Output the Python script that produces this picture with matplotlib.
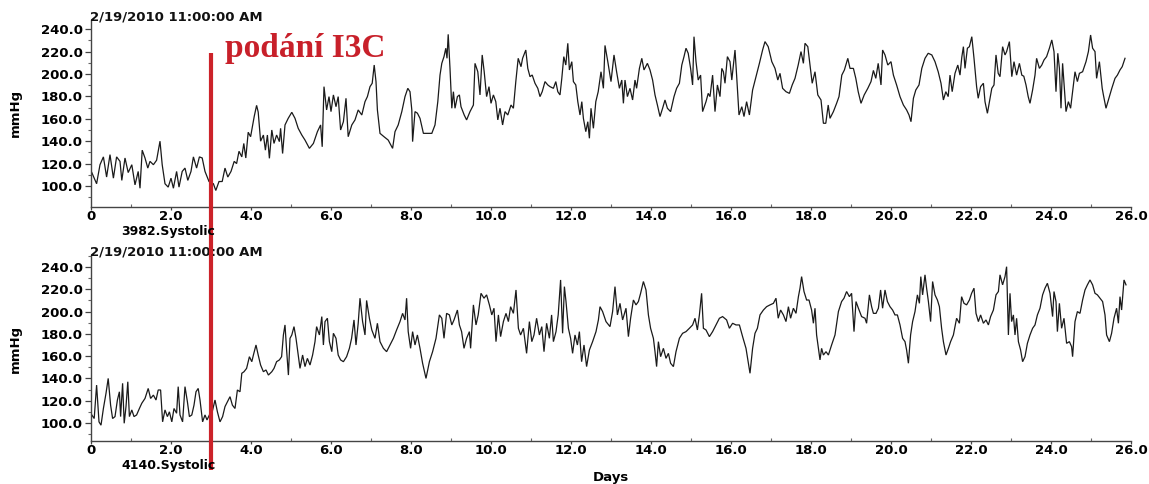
import matplotlib
matplotlib.use("Agg")
import matplotlib.pyplot as plt
from matplotlib.ticker import MultipleLocator, FuncFormatter
from matplotlib.lines import Line2D
import matplotlib.transforms as mtransforms

# ---------------- data ----------------
top_label = "3982.Systolic"
bottom_label = "4140.Systolic"
start_stamp = "2/19/2010 11:00:00 AM"
marker_day = 3.0
marker_text = "podání I3C"

top_days = [0.02,0.14,0.225,0.31,0.39,0.475,0.56,0.64,0.725,0.77,0.85,0.93,1.02,1.1,1.18,1.225,1.28,1.35,1.42,1.475,
            1.56,1.64,1.725,1.78,1.85,1.93,2.0,2.06,2.14,2.2,2.28,2.35,2.42,2.5,2.56,2.64,2.71,2.78,2.85,2.95,
            3.06,3.12,3.2,3.28,3.35,3.42,3.5,3.58,3.64,3.7,3.77,3.82,3.87,3.93,3.99,4.04,4.08,4.14,4.18,4.24,4.31,
            4.36,4.41,4.46,4.52,4.575,4.64,4.71,4.74,4.79,4.85,4.93,5.02,5.1,5.18,5.27,5.35,5.46,5.56,5.66,5.74,
            5.78,5.825,5.89,5.95,6.0,6.06,6.125,6.18,6.24,6.31,6.375,6.43,6.52,6.6,6.68,6.77,6.85,6.91,6.975,7.03,
            7.08,7.125,7.16,7.225,7.325,7.43,7.54,7.6,7.68,7.77,7.85,7.92,7.975,8.02,8.04,8.1,8.16,8.225,8.31,8.39,
            8.52,8.6,8.67,8.725,8.77,8.825,8.87,8.9,8.93,8.975,9.02,9.06,9.1,9.16,9.21,9.25,9.33,9.39,9.475,9.56,
            9.6,9.67,9.725,9.78,9.83,9.89,9.95,10.0,10.06,10.12,10.17,10.225,10.29,10.35,10.42,10.5,10.56,10.62,
            10.68,10.75,10.79,10.87,10.92,10.975,11.03,11.1,11.17,11.225,11.28,11.35,11.42,11.475,11.56,11.62,
            11.67,11.725,11.77,11.82,11.87,11.92,11.96,12.02,12.06,12.12,12.17,12.225,12.27,12.31,12.37,12.42,
            12.46,12.5,12.56,12.62,12.68,12.75,12.81,12.85,12.92,13.0,13.075,13.14,13.21,13.27,13.31,13.35,13.41,
            13.475,13.54,13.6,13.64,13.71,13.77,13.825,13.91,13.975,14.04,14.1,14.16,14.225,14.29,14.35,14.41,
            14.49,14.575,14.64,14.71,14.77,14.825,14.875,14.93,14.99,15.04,15.075,15.125,15.18,15.24,15.29,15.375,
            15.43,15.475,15.54,15.6,15.66,15.725,15.77,15.81,15.85,15.91,15.975,16.02,16.1,16.14,16.2,16.27,16.325,
            16.39,16.46,16.54,16.625,16.71,16.79,16.85,16.93,17.02,17.1,17.17,17.225,17.29,17.375,17.46,17.53,17.6,
            17.68,17.75,17.81,17.85,17.92,17.975,18.03,18.1,18.17,18.25,18.31,18.37,18.43,18.475,18.56,18.64,18.7,
            18.77,18.835,18.92,18.975,19.06,19.12,19.18,19.25,19.33,19.42,19.5,19.56,19.62,19.68,19.75,19.79,19.85,
            19.92,20.0,20.06,20.14,20.225,20.31,20.39,20.45,20.5,20.56,20.62,20.7,20.77,20.85,20.93,21.02,21.1,
            21.18,21.25,21.31,21.37,21.43,21.475,21.53,21.6,21.67,21.725,21.77,21.81,21.85,21.91,21.96,22.02,
            22.075,22.14,22.18,22.24,22.31,22.35,22.41,22.46,22.52,22.575,22.625,22.68,22.725,22.79,22.85,22.89,
            22.96,23.02,23.075,23.14,23.21,23.27,23.32,23.375,23.43,23.475,23.54,23.6,23.64,23.71,23.77,23.825,
            23.89,23.96,24.02,24.075,24.125,24.17,24.21,24.25,24.29,24.325,24.375,24.435,24.49,24.54,24.6,24.66,
            24.71,24.79,24.875,24.935,24.99,25.04,25.1,25.14,25.21,25.28,25.31,25.375,25.435,25.52,25.6,25.66,
            25.725,25.78,25.85]
top_vals = [112,102,119,126,108,128,107,126,122,105,125,112,119,101,113,98,132,125,116,122,
            119,123,140,119,102,99,107,98,113,99,113,116,105,113,126,116,126,125,113,104,
            102,96,104,104,116,108,113,122,120,131,126,138,125,148,144,154,162,172,166,140,145.5,
            132,145.5,124.7,150,138,145.5,139.6,151.5,129,154.5,160.4,165.8,160.4,151.5,145.5,141,133.6,138,148.5,154.5,
            135,188.7,167.9,179.8,166.4,181.3,170.8,179.8,150,157.4,178.3,144,154.5,159,167.9,163.4,175.3,179.8,188.7,191.7,
            208,193.2,167.9,147,144,141,133.6,148.5,154.5,166.4,179.8,187.2,184.2,167.9,139.6,166.4,165,160.4,147,147,
            147,154.5,175.3,199,209.5,215.5,223,214,235.4,205,169.4,184.2,169.4,179.8,181.3,170.8,163.4,159,166.4,172.3,
            209.5,202,181.3,217,202,179.8,188.7,173.8,181.3,175.3,159,169.4,154.5,166.4,163.4,172.3,169.4,193.2,
            214,206.5,214,221.4,205,197.6,199.1,191.7,187.2,179.8,184.2,193.2,190.2,188.7,187.2,193.2,
            184.2,181.3,196.1,215.5,208,227.4,203.6,211,193.2,190.2,175.3,163.4,175.3,160.4,148.5,157.4,
            142.6,169.4,151.5,175.3,184.2,202,187.2,225.5,211,193.2,217,202,187.2,194.6,173.8,194.6,179.8,
            187.2,176.8,194.6,187.2,205,214,203.6,209.5,203.6,194.6,181.3,172.3,162,169.4,176.8,169.4,
            166.4,179.8,187.2,191.7,208,215.5,223,218.5,205,190.2,233.3,211,194.6,199,166.4,175.3,
            182.7,179.8,199,166.4,190.2,179.8,205,202,191.7,215.5,211,194.6,221.4,199,163.4,170.8,162,
            175.3,163.4,185.7,197.6,209.5,221.4,228.9,224.4,211,205,194.6,200.6,187.2,184.2,182.7,190.2,196.1,
            208,220,209.5,227.4,224.4,208,191.7,202,181.3,176.8,156,156,172.3,160.4,166.4,173.8,179.8,
            199,203.6,214,205,205,196.1,184.2,173.8,181.3,187.2,193.2,203.2,196.1,209.5,190.2,221.4,217,
            208,211,199,190.2,179.8,172.3,167.9,163.4,157.4,178.3,185.7,190.2,205,214,218.5,217,211,
            202,191.7,176.8,184.2,179.8,199,184.2,200.6,208,199,215,224.4,205,223,224.4,233.3,
            214,188.7,178.3,188.7,191.7,175.3,164.9,175.3,187.2,190.2,217,200.6,197.6,224.4,217,220,
            228.9,197.6,211,199,209.5,199,198,190.2,179.8,173.8,185.7,199,214,205,208,212.5,
            215.5,223,230.4,220,184.2,218.5,205,169.4,209.5,191.7,166.4,175.3,169.4,184.2,202,193.2,
            200.6,202,211,220,234.8,223,220,196.1,211,187.2,181.3,169.4,176.8,187.2,196.1,199,
            203.6,206.5,214]

bottom_days = [0.02,0.08,0.14,0.2,0.25,0.31,0.375,0.43,0.49,0.54,0.6,0.66,0.71,0.74,0.79,0.83,0.875,0.92,0.96,1.02,
               1.075,1.14,1.21,1.27,1.35,1.43,1.49,1.56,1.625,1.68,1.74,1.79,1.85,1.91,1.96,2.02,2.075,2.14,2.18,2.225,
               2.29,2.35,2.41,2.46,2.52,2.575,2.625,2.68,2.725,2.79,2.85,2.9,2.96,3.03,3.1,3.16,3.225,3.29,3.35,3.41,
               3.475,3.535,3.6,3.66,3.725,3.77,3.825,3.89,3.96,4.02,4.06,4.125,4.18,4.24,4.31,4.375,4.435,4.52,4.575,4.64,
               4.71,4.765,4.81,4.85,4.89,4.935,4.975,5.02,5.075,5.125,5.18,5.225,5.29,5.35,5.41,5.475,5.54,5.6,5.64,5.71,
               5.77,5.81,5.85,5.91,5.96,6.02,6.06,6.125,6.18,6.24,6.31,6.39,6.46,6.515,6.575,6.625,6.68,6.725,6.79,6.85,
               6.89,6.96,7.02,7.1,7.16,7.225,7.31,7.39,7.475,7.56,7.64,7.725,7.79,7.85,7.89,7.93,7.99,8.04,8.1,8.16,
               8.225,8.29,8.375,8.46,8.54,8.625,8.71,8.77,8.825,8.89,8.96,9.02,9.075,9.16,9.21,9.265,9.325,9.39,9.46,9.49,
               9.56,9.625,9.68,9.75,9.825,9.89,9.96,10.02,10.075,10.125,10.185,10.24,10.31,10.375,10.435,10.49,10.56,10.625,
               10.685,10.74,10.81,10.89,10.96,11.02,11.075,11.14,11.21,11.27,11.325,11.39,11.46,11.515,11.56,11.625,11.68,
               11.74,11.79,11.835,11.875,11.935,11.99,12.04,12.1,12.16,12.21,12.265,12.325,12.39,12.46,12.54,12.625,12.685,
               12.725,12.79,12.875,12.975,13.04,13.1,13.16,13.225,13.29,13.375,13.435,13.49,13.56,13.625,13.685,13.74,13.81,
               13.875,13.935,13.99,14.06,14.1,14.14,14.185,14.24,14.31,14.375,14.435,14.49,14.56,14.625,14.71,14.79,14.875,
               14.96,15.04,15.1,15.16,15.21,15.265,15.31,15.375,15.46,15.54,15.625,15.71,15.79,15.89,15.96,16.04,16.125,
               16.21,16.29,16.375,16.435,16.475,16.54,16.6,16.66,16.725,16.81,16.89,16.975,17.06,17.125,17.18,17.24,17.31,
               17.375,17.435,17.49,17.56,17.625,17.685,17.725,17.765,17.825,17.89,17.95,18.015,18.06,18.1,18.14,18.185,
               18.225,18.265,18.31,18.375,18.435,18.515,18.6,18.685,18.765,18.825,18.89,18.96,19.015,19.075,19.125,19.185,
               19.265,19.35,19.39,19.46,19.515,19.56,19.625,19.685,19.74,19.79,19.85,19.91,19.975,20.04,20.1,20.16,20.225,
               20.29,20.35,20.39,20.435,20.49,20.54,20.6,20.66,20.71,20.745,20.79,20.85,20.89,20.935,20.99,21.04,21.1,
               21.16,21.21,21.265,21.31,21.375,21.435,21.49,21.56,21.64,21.71,21.765,21.825,21.89,21.96,22.015,22.075,
               22.125,22.185,22.24,22.31,22.375,22.435,22.49,22.56,22.625,22.685,22.725,22.79,22.85,22.89,22.935,22.975,
               23.015,23.06,23.1,23.14,23.185,23.24,23.29,23.35,23.41,23.475,23.54,23.6,23.66,23.725,23.79,23.85,23.91,
               23.975,24.04,24.075,24.125,24.16,24.21,24.265,24.325,24.39,24.46,24.515,24.54,24.6,24.66,24.725,24.79,
               24.85,24.91,24.975,25.04,25.1,25.16,25.225,25.29,25.35,25.39,25.46,25.515,25.575,25.64,25.685,25.725,
               25.765,25.825,25.875]
bottom_vals = [107.2,104,134,101,98,113,126.6,140,116,104,105.7,120.6,128,105.7,135.6,99.7,114.7,137,105.7,111.7,
               105.7,107.2,113,117.7,122,131,122,125,120.6,129.6,129.6,101,111.7,105.7,110,101,113,108.7,132.6,107.2,
               101,132.6,119,105.7,107.2,116,128,131,120.6,101,107.2,102.7,107.2,110,120.6,110,101,105.7,114.7,119,
               123.6,116,113,129.6,128,144.6,146,149,159.5,155,161,170,161,152,146,147.6,143,146,149,155,
               156.6,159.5,179,188,165.5,143,176,179,186.5,176,161,149,161,150.6,158,152,161,173,186.5,179,
               195.5,170,191,194,173,164,180.5,176,161,156.6,155,159.5,167,176,192.5,170,189.5,212,191,179,
               210,194,183.5,176,189.5,173,167,164,170,176,183.5,191,198.4,192.5,212,182,167,182,170,179,
               167,153.6,140,155,164,176,197,194,176,198.4,197,188,192.5,201.4,188,182,167,176,182,167,
               206,188,197,216.4,212,215,206,197,203,173,197,177.5,191,198.4,191,204.4,198.4,219.4,
               185,179,185,162.5,191,173,179,194,179,186.5,164,189.5,176,197,173,182,197,
               228.4,180.5,222.4,209,185,176,162.5,179,170,182,155,170,150.6,165.5,173,182,192.5,
               204.4,200,191,186.5,200,222.4,197,207.4,192.5,203,177.5,194,210.4,206,209,216.4,227,
               219.4,197,185,176,164,150.6,173,159.5,167,158,162.5,153.6,150.6,164,176,180.5,182,
               185,188,194,183.5,197,216.4,185,183.5,177.5,182,188,194,195.5,192.5,185,189.5,188,
               188,177.5,167,153.6,144.6,167,180.5,185,197,201.4,204.4,206,207.4,212,194,201.4,197,
               191,204.4,194,203,198.4,213.4,221,231.4,218,210.4,210.4,201.4,189.5,203,179,167,
               156.6,167,161,164,161,170,179,200,209,212,218,213.4,216.4,182,209,203,
               195.5,194,189.5,215,204.4,198.4,198.4,203,219.4,203,219.4,209,204.4,201.4,197,197,188,
               176,173,165.5,153.6,179,191,200,215,207.4,231.4,215,233,221,209,191,227,215,
               210.4,204.4,185,173,161,167,173,179,194,189.5,213.4,207.4,206,210.4,216.4,221,
               198.4,191,197,189.5,192.5,188,195.5,201.4,215,218,233,224,231.4,240.3,179,216.4,
               191,197,179,194,173,165.5,155,159.5,171.5,179,185,188,197,203,215,221,225.4,
               216.4,195.5,218,209,182,207.4,185,194,171.5,173,168.5,159.5,191,200,198.4,210.4,
               219.4,224,228.4,224,216.4,215,212,209,197,179,173,180.5,194,203,189.5,213.4,
               201.4,228.4,224]

x_major = [0, 2, 4, 6, 8, 10, 12, 14, 16, 18, 20, 22, 24, 26]
y_major = [100, 120, 140, 160, 180, 200, 220, 240]

# ---------------- figure ----------------
W, H = 1149, 484
fig = plt.figure(figsize=(W / 100, H / 100), dpi=100)
plt.rcParams['font.family'] = ['DejaVu Sans']

tick_font = dict(family='DejaVu Sans', weight='bold', size=9.5)

def px(x0, y_top, x1, y_bot):
    return [x0 / W, 1 - y_bot / H, (x1 - x0) / W, (y_bot - y_top) / H]

ax1 = fig.add_axes(px(91, 20, 1131, 207))
ax2 = fig.add_axes(px(91, 255, 1131, 441))

panels = [(ax1, top_days, top_vals, (81.25, 248.2)),
          (ax2, bottom_days, bottom_vals, (83.8, 250.8))]

for ax, d, v, yl in panels:
    ax.plot(d, v, color='#1a1a1a', lw=0.9, solid_joinstyle='miter')
    ax.set_xlim(0, 26)
    ax.set_ylim(*yl)
    for s in ('top', 'right'):
        ax.spines[s].set_visible(False)
    for s in ('left', 'bottom'):
        ax.spines[s].set_color('#444444')
        ax.spines[s].set_linewidth(1.0)
    ax.set_xticks(x_major)
    ax.set_yticks(y_major)
    ax.xaxis.set_minor_locator(MultipleLocator(1))
    ax.yaxis.set_minor_locator(MultipleLocator(10))
    ax.xaxis.set_major_formatter(FuncFormatter(lambda val, pos: '0' if val == 0 else f'{val:.1f}'))
    ax.yaxis.set_major_formatter(FuncFormatter(lambda val, pos: f'{val:.1f}'))
    ax.tick_params(axis='y', which='major', length=4, width=0.9, color='#444444', pad=2)
    ax.tick_params(axis='y', which='minor', length=2.5, width=0.8, color='#666666')
    ax.tick_params(axis='x', which='major', length=2, width=0.9, color='#444444', pad=0.5)
    ax.tick_params(axis='x', which='minor', direction='in', length=2.5, width=0.8, color='#666666')
    for lab in ax.get_xticklabels() + ax.get_yticklabels():
        lab.set_fontproperties(matplotlib.font_manager.FontProperties(**tick_font))
    ax.annotate(start_stamp, xy=(0, 1), xycoords='axes fraction', xytext=(-1, 2.5),
                textcoords='offset points', ha='left', va='center', fontsize=9.5,
                fontweight='bold', color='#111111')

# y labels
fig.text(15 / W, 1 - 113 / H, 'mmHg', rotation=90, ha='center', va='center',
         fontsize=9.5, fontweight='bold')
fig.text(15 / W, 1 - 349 / H, 'mmHg', rotation=90, ha='center', va='center',
         fontsize=9.5, fontweight='bold')

# series names and x label
fig.text(121 / W, 1 - 231 / H, top_label, ha='left', va='center', fontsize=9, fontweight='bold')
fig.text(121 / W, 1 - 466 / H, bottom_label, ha='left', va='center', fontsize=9, fontweight='bold')
fig.text(611 / W, 1 - 478 / H, 'Days', ha='center', va='center', fontsize=9.5, fontweight='bold')

# red marker line spanning both panels
trans = mtransforms.blended_transform_factory(ax1.transData, fig.transFigure)
fig.add_artist(Line2D([marker_day, marker_day], [1 - 53 / H, 1 - 470 / H],
                      transform=trans, color='#cc2229', lw=3.0, solid_capstyle='butt'))
fig.text(225 / W, 1 - 48 / H, marker_text, ha='left', va='center', fontsize=24,
         family='Liberation Serif', fontweight='bold', color='#c8202a')

fig.savefig('out.png', dpi=100)
